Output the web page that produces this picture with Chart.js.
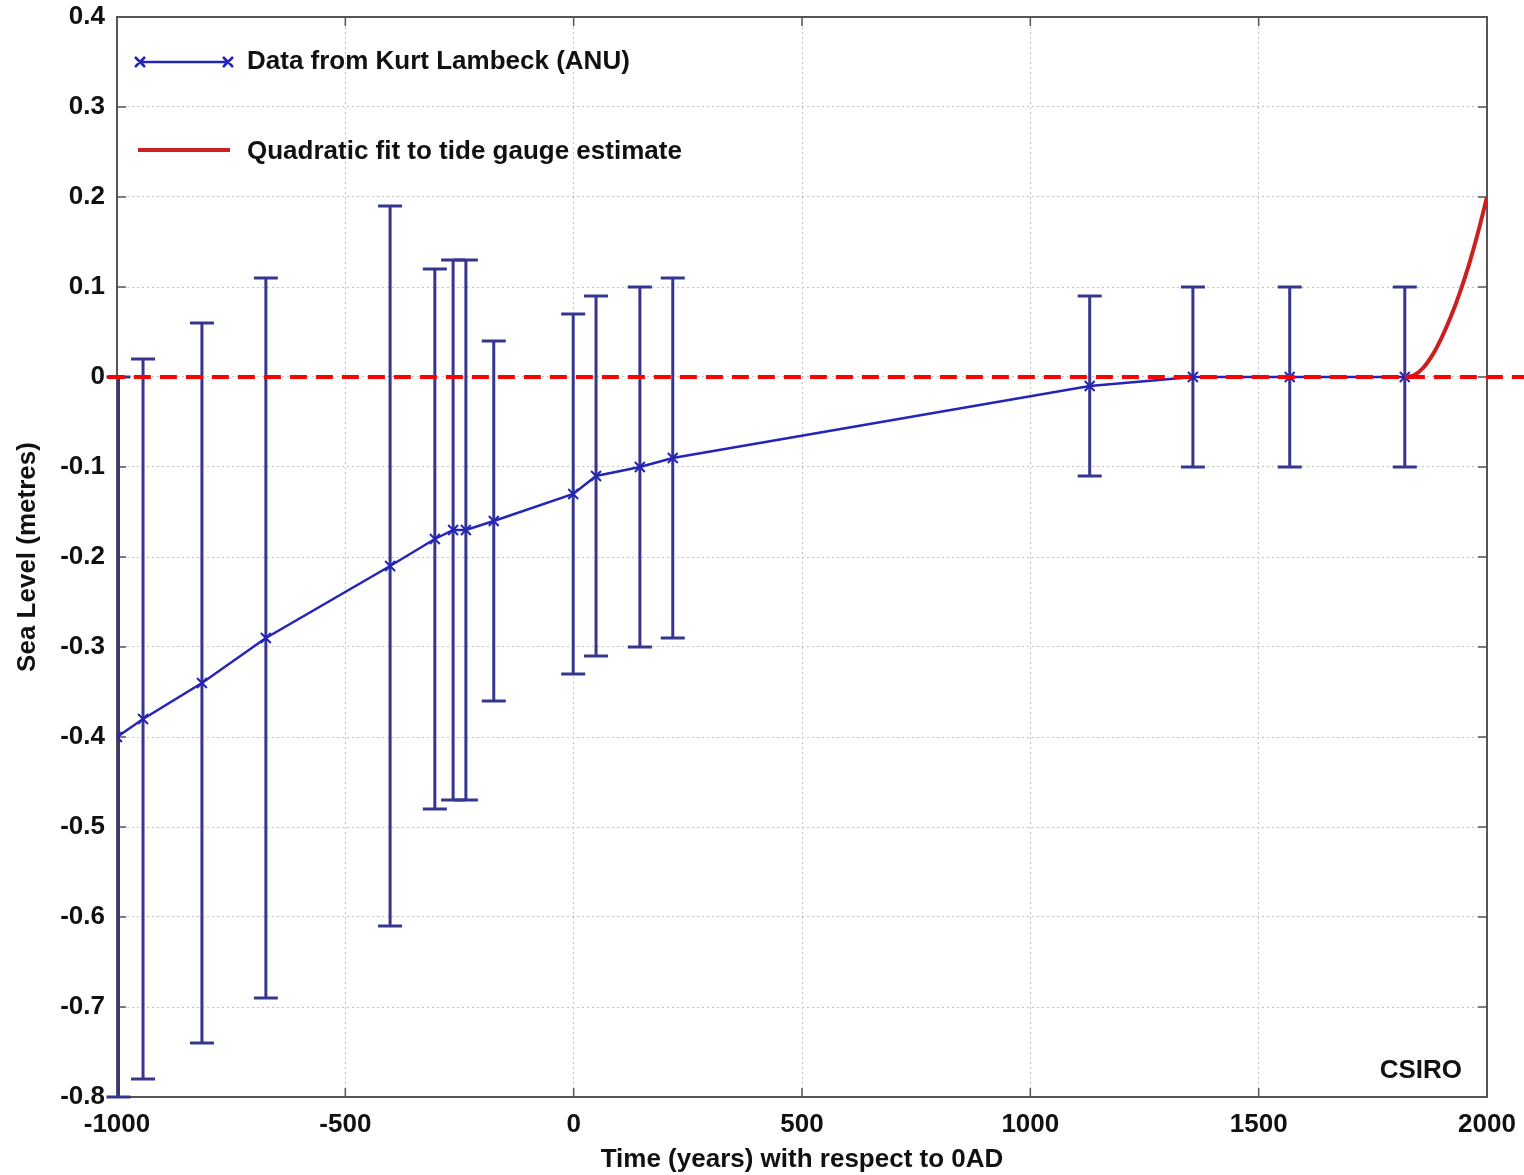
<!DOCTYPE html>
<html>
<head>
<meta charset="utf-8">
<script src="https://cdn.jsdelivr.net/npm/chart.js@4"></script>
<style>
  html, body { margin: 0; padding: 0; background: #fff; }
  #wrap { width: 1524px; height: 1175px; position: relative; }
</style>
</head>
<body>
<div id="wrap"><canvas id="seaChart"></canvas></div>
<script>
// Lambeck data points (year, sea level m) with error bar ends
const years = [-1000, -943, -814, -674, -402, -304, -264, -236, -175, -1, 49, 145, 217, 1130, 1356, 1568, 1820];
const level = [-0.40, -0.38, -0.34, -0.29, -0.21, -0.18, -0.17, -0.17, -0.16, -0.13, -0.11, -0.10, -0.09, -0.01, 0.00, 0.00, 0.00];
const errHigh = [0.00, 0.02, 0.06, 0.11, 0.19, 0.12, 0.13, 0.13, 0.04, 0.07, 0.09, 0.10, 0.11, 0.09, 0.10, 0.10, 0.10];
const errLow = [-0.80, -0.78, -0.74, -0.69, -0.61, -0.48, -0.47, -0.47, -0.36, -0.33, -0.31, -0.30, -0.29, -0.11, -0.10, -0.10, -0.10];

// tide gauge fit
const fitYears = [1820, 1840, 1860, 1880, 1900, 1920, 1940, 1960, 1980, 2000];
const fitLevel = [0.000, 0.002, 0.010, 0.024, 0.043, 0.066, 0.093, 0.124, 0.160, 0.200];

// zero reference (runs past the axes)
const refYears = [-1020, 2082];
const refLevel = [0, 0];

const xTicks = [-1000, -500, 0, 500, 1000, 1500, 2000];

const FONT = 'Liberation Sans, Arial, sans-serif';
const BLUE = '#2424b8';
const BAR = '#363690';

const toPts = (xs, ys) => xs.map((x, i) => ({ x: x, y: ys[i] }));

const errorBars = {
  id: 'errorBars',
  beforeDatasetsDraw(chart) {
    const { ctx, chartArea: a, scales: { x, y } } = chart;
    ctx.save();
    // plot box and inward ticks
    ctx.strokeStyle = '#555';
    ctx.lineWidth = 2;
    ctx.strokeRect(a.left, a.top, a.right - a.left, a.bottom - a.top);
    ctx.lineWidth = 1.5;
    ctx.beginPath();
    y.ticks.forEach(t => {
      const py = y.getPixelForValue(t.value);
      ctx.moveTo(a.left, py); ctx.lineTo(a.left + 9, py);
      ctx.moveTo(a.right, py); ctx.lineTo(a.right - 9, py);
    });
    x.ticks.forEach(t => {
      const px = x.getPixelForValue(t.value);
      ctx.moveTo(px, a.bottom); ctx.lineTo(px, a.bottom - 9);
      ctx.moveTo(px, a.top); ctx.lineTo(px, a.top + 9);
    });
    ctx.stroke();

    ctx.strokeStyle = BAR;
    ctx.lineWidth = 3;
    years.forEach((yr, i) => {
      const px = x.getPixelForValue(yr) + (i === 0 ? 1.5 : 0);
      const top = y.getPixelForValue(errHigh[i]);
      const bot = y.getPixelForValue(errLow[i]);
      ctx.beginPath();
      ctx.moveTo(px, top); ctx.lineTo(px, bot);
      ctx.moveTo(px - 12, top); ctx.lineTo(px + 12, top);
      ctx.moveTo(px - 12, bot); ctx.lineTo(px + 12, bot);
      ctx.stroke();
    });
    ctx.restore();
  }
};

const legendBox = {
  id: 'legendBox',
  afterDraw(chart) {
    const ctx = chart.ctx;
    ctx.save();
    ctx.strokeStyle = BLUE;
    ctx.lineWidth = 2.5;
    ctx.beginPath();
    ctx.moveTo(140, 62); ctx.lineTo(228, 62);
    [140, 228].forEach(cx => {
      ctx.moveTo(cx - 5, 57); ctx.lineTo(cx + 5, 67);
      ctx.moveTo(cx - 5, 67); ctx.lineTo(cx + 5, 57);
    });
    ctx.stroke();
    ctx.strokeStyle = '#cc1f1f';
    ctx.lineWidth = 4;
    ctx.beginPath();
    ctx.moveTo(138, 150); ctx.lineTo(230, 150);
    ctx.stroke();

    ctx.fillStyle = '#111';
    ctx.font = 'bold 26px ' + FONT;
    ctx.textBaseline = 'middle';
    ctx.textAlign = 'left';
    ctx.fillText('Data from Kurt Lambeck (ANU)', 247, 62);
    ctx.fillText('Quadratic fit to tide gauge estimate', 247, 152);
    ctx.textAlign = 'right';
    ctx.fillText('CSIRO', 1462, 1071);
    ctx.restore();
  }
};

new Chart(document.getElementById('seaChart'), {
  type: 'scatter',
  data: {
    datasets: [
      {
        label: 'zero',
        data: toPts(refYears, refLevel),
        showLine: true,
        borderColor: '#ff0000',
        borderWidth: 4,
        borderDash: [17, 9],
        pointRadius: 0,
        clip: false
      },
      {
        label: 'Quadratic fit to tide gauge estimate',
        data: toPts(fitYears, fitLevel),
        showLine: true,
        borderColor: '#cc1f1f',
        borderWidth: 4,
        cubicInterpolationMode: 'monotone',
        pointRadius: 0
      },
      {
        label: 'Data from Kurt Lambeck (ANU)',
        data: toPts(years, level),
        showLine: true,
        borderColor: BLUE,
        borderWidth: 2.5,
        pointStyle: 'crossRot',
        pointRadius: 7,
        pointBorderWidth: 2,
        pointBorderColor: BLUE
      }
    ]
  },
  options: {
    responsive: true,
    maintainAspectRatio: false,
    animation: false,
    layout: { padding: { top: 17, right: 37, left: 0, bottom: 0 } },
    plugins: { legend: { display: false }, tooltip: { enabled: false } },
    scales: {
      x: {
        type: 'linear',
        min: -1000,
        max: 2000,
        afterBuildTicks: s => { s.ticks = xTicks.map(v => ({ value: v })); },
        afterFit: s => { s.height = 78; s.paddingLeft = 0; s.paddingRight = 0; },
        grid: { color: '#c4c4c4', drawTicks: false },
        border: { display: false, dash: [2, 3] },
        ticks: {
          padding: 12,
          color: '#111',
          font: { family: FONT, size: 26, weight: 'bold' },
          callback: v => String(v)
        },
        title: {
          display: true,
          text: 'Time (years) with respect to 0AD',
          color: '#111',
          padding: { top: 0, bottom: 0 },
          font: { family: FONT, size: 26, weight: 'bold' }
        }
      },
      y: {
        min: -0.8,
        max: 0.4,
        afterFit: s => { s.width = 117; s.paddingTop = 0; s.paddingBottom = 0; },
        grid: { color: '#c4c4c4', drawTicks: false },
        border: { display: false, dash: [2, 3] },
        ticks: {
          stepSize: 0.1,
          padding: 12,
          color: '#111',
          font: { family: FONT, size: 26, weight: 'bold' },
          callback: v => String(Math.round(v * 10) / 10)
        },
        title: {
          display: true,
          text: 'Sea Level (metres)',
          color: '#111',
          padding: { top: 12, bottom: 0 },
          font: { family: FONT, size: 26, weight: 'bold' }
        }
      }
    }
  },
  plugins: [errorBars, legendBox]
});
</script>
</body>
</html>
